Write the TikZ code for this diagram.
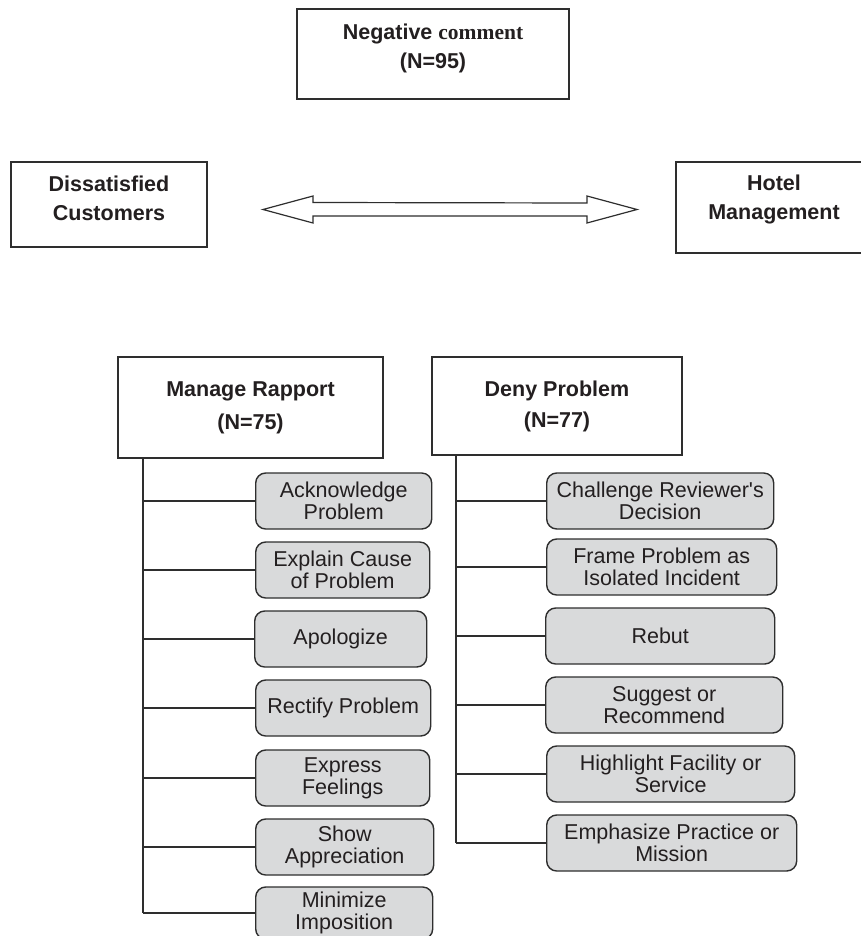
\documentclass[tikz,border=0pt]{standalone}
\usepackage{fontspec}
\setmainfont{Liberation Sans}
\setmonofont{Liberation Sans}
\newfontfamily\timesf{Liberation Serif}
\usetikzlibrary{calc}
\definecolor{boxline}{HTML}{2E2E2E}
\definecolor{txt}{HTML}{231F20}
\definecolor{subfill}{HTML}{D9DADB}
\begin{document}
\begin{tikzpicture}[x=1pt,y=-1pt,
  mainbox/.style={draw=boxline, line width=1.5pt, fill=white, inner sep=0pt},
  headtext/.style={font=\fontsize{21.5}{29}\selectfont\bfseries, text=txt, align=center, inner sep=0pt},
  subbox/.style={draw=boxline, line width=1.4pt, fill=subfill, rounded corners=10pt,
     minimum height=56pt, inner sep=0pt, anchor=west, align=center,
     font=\fontsize{21.5}{22}\selectfont, text=txt},
  branch/.style={draw=boxline, line width=1.5pt},
  trunk/.style={draw=boxline, line width=2pt}]
\useasboundingbox (0,0) rectangle (861,936);
\clip (0,0) rectangle (861,936);

% top box
\node[mainbox, minimum width=272pt, minimum height=90pt] (neg) at (433,54) {};
\node[headtext] (negt) at (433,48.5) {Negative {\timesf comment}\\(N=95)};

% side boxes
\node[mainbox, minimum width=196pt, minimum height=85pt] (dis) at (109,204.5) {};
\node[headtext] (dist) at (109,198.5) {Dissatisfied\\Customers};
\node[mainbox, minimum width=196pt, minimum height=91pt] (hot) at (774,207.5) {};
\node[headtext] (hott) at (774,199) {Hotel\\Management};

% double arrow
\coordinate (al) at (263,209.5);
\coordinate (ar) at (637,209.5);
\draw[draw=boxline, line width=1.2pt, fill=white, line join=miter]
  (al) -- ++(50,-13.5) -- ++(0,6.5) -- ($(ar)+(-50,-6.5)$) -- ++(0,-7) -- (ar)
  -- ++(-50,13.5) -- ++(0,-7) -- ($(al)+(50,6.5)$) -- ++(0,7) -- cycle;

% category boxes
\node[mainbox, headtext, minimum width=265pt, minimum height=101pt,
      font=\fontsize{21.5}{33}\selectfont\bfseries] (mr) at (250.5,407.5) {Manage Rapport\\(N=75)};
\node[mainbox, headtext, minimum width=250pt, minimum height=98pt,
      font=\fontsize{21.5}{31}\selectfont\bfseries] (dp) at (557,406) {Deny Problem\\(N=77)};

% left sub boxes
\node[subbox, minimum width=176pt] (ack) at (255,501) {Acknowledge\\Problem};
\node[subbox, minimum width=174pt] (exp) at (255,570) {Explain Cause\\of Problem};
\node[subbox, minimum width=172pt] (apo) at (254,639) {Apologize};
\node[subbox, minimum width=175pt] (rec) at (255,708) {Rectify Problem};
\node[subbox, minimum width=174pt] (exf) at (255,778) {Express\\Feelings};
\node[subbox, minimum width=178pt] (sho) at (255,847) {Show\\Appreciation};
\node[subbox, minimum width=177pt, minimum height=52pt] (mini) at (255,913) {Minimize\\Imposition};

% right sub boxes
\node[subbox, minimum width=227pt] (cha) at (546,501) {Challenge Reviewer{\ttfamily\char39}s\\Decision};
\node[subbox, minimum width=230pt] (fra) at (546,567) {Frame Problem as\\Isolated Incident};
\node[subbox, minimum width=229pt] (reb) at (545,636) {Rebut};
\node[subbox, minimum width=237pt] (sug) at (545,705) {Suggest or\\Recommend};
\node[subbox, minimum width=248pt] (hig) at (546,774) {Highlight Facility or\\Service};
\node[subbox, minimum width=250pt] (emp) at (546,843) {Emphasize Practice or\\Mission};

% trunks
\coordinate (lt) at ($(mr.south west)+(26,0)$);
\coordinate (rt) at ($(dp.south west)+(25,0)$);
\draw[trunk] (lt) -- (lt |- mini.west);
\draw[trunk] (rt) -- (rt |- emp.west);

% branches
\foreach \b in {ack,exp,apo,rec,exf,sho,mini}
  \draw[branch] (lt |- \b.west) -- (\b.west);
\foreach \b in {cha,fra,reb,sug,hig,emp}
  \draw[branch] (rt |- \b.west) -- (\b.west);
\end{tikzpicture}
\end{document}
